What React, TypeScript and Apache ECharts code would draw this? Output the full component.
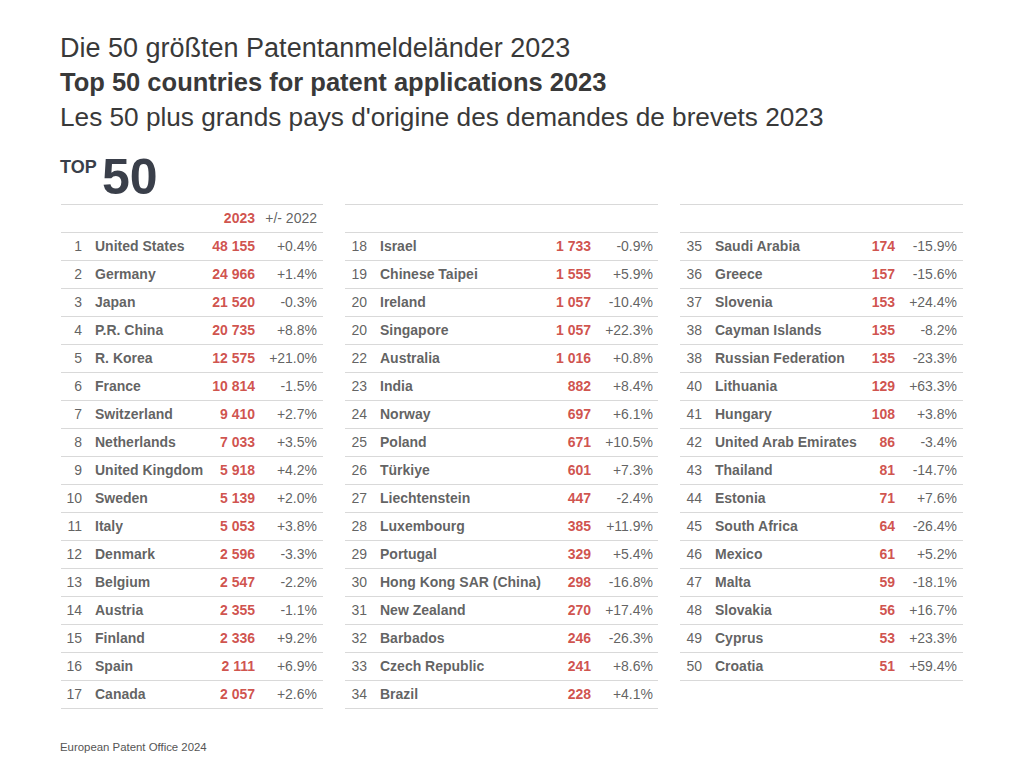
import React, { useEffect, useRef } from "react";
import * as echarts from "echarts";

const ranks = [1,2,3,4,5,6,7,8,9,10,11,12,13,14,15,16,17,18,19,20,20,22,23,24,25,26,27,28,29,30,31,32,33,34,35,36,37,38,38,40,41,42,43,44,45,46,47,48,49,50];
const countries = [
  "United States","Germany","Japan","P.R. China","R. Korea","France","Switzerland","Netherlands","United Kingdom","Sweden","Italy","Denmark","Belgium","Austria","Finland","Spain","Canada",
  "Israel","Chinese Taipei","Ireland","Singapore","Australia","India","Norway","Poland","Türkiye","Liechtenstein","Luxembourg","Portugal","Hong Kong SAR (China)","New Zealand","Barbados","Czech Republic","Brazil",
  "Saudi Arabia","Greece","Slovenia","Cayman Islands","Russian Federation","Lithuania","Hungary","United Arab Emirates","Thailand","Estonia","South Africa","Mexico","Malta","Slovakia","Cyprus","Croatia",
];
const applications2023 = [
  48155,24966,21520,20735,12575,10814,9410,7033,5918,5139,5053,2596,2547,2355,2336,2111,2057,
  1733,1555,1057,1057,1016,882,697,671,601,447,385,329,298,270,246,241,228,
  174,157,153,135,135,129,108,86,81,71,64,61,59,56,53,51,
];
const changeVs2022 = [
  0.4,1.4,-0.3,8.8,21.0,-1.5,2.7,3.5,4.2,2.0,3.8,-3.3,-2.2,-1.1,9.2,6.9,2.6,
  -0.9,5.9,-10.4,22.3,0.8,8.4,6.1,10.5,7.3,-2.4,11.9,5.4,-16.8,17.4,-26.3,8.6,4.1,
  -15.9,-15.6,24.4,-8.2,-23.3,63.3,3.8,-3.4,-14.7,7.6,-26.4,5.2,-18.1,16.7,23.3,59.4,
];
const headerLabels = ["2023", "+/- 2022"];
const blockSizes = [17, 17, 16];

const FONT = "'Liberation Sans', Arial, Helvetica, sans-serif";
const TEXT = "#393939";
const RED = "#c4261d";
const LINE = "#d9d9d9";

const fmtNum = (n: number) => String(n).replace(/\B(?=(\d{3})+(?!\d))/g, " ");
const fmtPct = (v: number) => (v > 0 ? "+" : "") + v.toFixed(1) + "%";

// layout of the three blocks (pixel geometry)
const blocks = [
  { left: 61, width: 262, cols: [21, 34, 194, 256] },
  { left: 345, width: 313, cols: [22, 35, 246, 308] },
  { left: 680, width: 283, cols: [22, 35, 215, 277] },
];
const TOP = 204;
const ROW = 28;

export default function App() {
  const ref = useRef<HTMLDivElement>(null);
  useEffect(() => {
    if (!ref.current) return;
    const chart = echarts.init(ref.current, null, { renderer: "svg" });

    const grid: any[] = [];
    const xAxis: any[] = [];
    const yAxis: any[] = [];
    const series: any[] = [];
    let start = 0;
    blockSizes.forEach((size, b) => {
      const blk = blocks[b];
      const idx = Array.from({ length: size }, (_, i) => start + i);
      const nRows = size + 1;
      grid.push({ left: blk.left, top: TOP, width: blk.width, height: nRows * ROW, containLabel: false });
      xAxis.push({ type: "value", gridIndex: b, min: 0, max: blk.width, show: false, splitLine: { show: false } });
      yAxis.push({
        type: "category",
        gridIndex: b,
        inverse: true,
        data: Array.from({ length: nRows }, (_, i) => (i === 0 ? "header" : String(i))),
        axisLine: { show: false },
        axisTick: { show: false },
        axisLabel: { show: false },
        splitLine: { show: true, lineStyle: { color: LINE, width: 1 } },
      });
      const cols = [
        { texts: idx.map((k) => String(ranks[k])), align: "right", weight: "normal", color: TEXT },
        { texts: idx.map((k) => countries[k]), align: "left", weight: "bold", color: TEXT },
        { texts: idx.map((k) => fmtNum(applications2023[k])), align: "right", weight: "bold", color: RED },
        { texts: idx.map((k) => fmtPct(changeVs2022[k])), align: "right", weight: "normal", color: TEXT },
      ];
      cols.forEach((c, ci) => {
        series.push({
          type: "scatter",
          xAxisIndex: b,
          yAxisIndex: b,
          silent: true,
          symbolSize: 1,
          itemStyle: { color: "rgba(0,0,0,0)" },
          data: c.texts.map((_, i) => [blk.cols[ci], i + 1]),
          label: {
            show: true,
            position: "inside",
            align: c.align,
            verticalAlign: "middle",
            fontFamily: FONT,
            fontSize: 14,
            fontWeight: c.weight,
            color: c.color,
            formatter: (p: any) => c.texts[p.dataIndex],
          },
        });
      });
      if (b === 0) {
        headerLabels.forEach((h, hi) => {
          series.push({
            type: "scatter",
            xAxisIndex: 0,
            yAxisIndex: 0,
            silent: true,
            symbolSize: 1,
            itemStyle: { color: "rgba(0,0,0,0)" },
            data: [[blk.cols[2 + hi], 0]],
            label: {
              show: true,
              position: "inside",
              align: "right",
              verticalAlign: "middle",
              fontFamily: FONT,
              fontSize: 14,
              fontWeight: hi === 0 ? "bold" : "normal",
              color: hi === 0 ? RED : TEXT,
              formatter: () => h,
            },
          });
        });
      }
      start += size;
    });

    chart.setOption({
      animation: false,
      backgroundColor: "#ffffff",
      grid,
      xAxis,
      yAxis,
      series,
      graphic: [
        { type: "text", left: 60, top: 34, style: { text: "Die 50 größten Patentanmeldeländer 2023", font: `normal 27px ${FONT}`, fill: TEXT } },
        { type: "text", left: 60, top: 69, style: { text: "Top 50 countries for patent applications 2023", font: `bold 25.5px ${FONT}`, fill: TEXT } },
        { type: "text", left: 60, top: 104, style: { text: "Les 50 plus grands pays d'origine des demandes de brevets 2023", font: `normal 26.2px ${FONT}`, fill: TEXT } },
        { type: "text", left: 60, top: 158, style: { text: "TOP", font: `bold 18px ${FONT}`, fill: "#3a3f4a" } },
        { type: "text", left: 102, top: 152, style: { text: "50", font: `bold 50px ${FONT}`, fill: "#3a3f4a" } },
        { type: "text", left: 60, top: 741, style: { text: "European Patent Office 2024", font: `normal 11.4px ${FONT}`, fill: "#555" } },
      ],
    });
    return () => chart.dispose();
  }, []);
  return <div ref={ref} style={{ position: "absolute", left: 0, top: 0, width: 1024, height: 768, background: "#fff" }} />;
}
